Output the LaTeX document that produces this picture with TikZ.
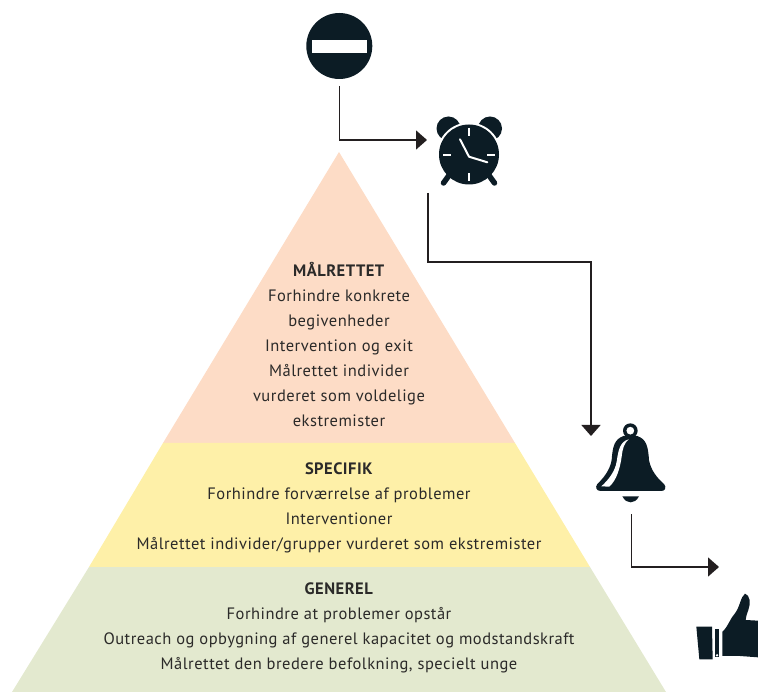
\documentclass[tikz,border=0pt]{standalone}
\usepackage{fontspec}
\setmainfont[LetterSpace=3]{PT Sans}
\usetikzlibrary{arrows.meta}
\definecolor{icondark}{HTML}{0C1C25}
\definecolor{flowdark}{HTML}{231F20}
\definecolor{textdark}{HTML}{2B2A29}
\definecolor{peach}{HTML}{FDDCC6}
\definecolor{butter}{HTML}{FEF0A8}
\definecolor{sage}{HTML}{E3E9CF}
\tikzset{
  flow/.style={draw=flowdark, line width=1.5pt, -{Triangle[length=11pt,width=19pt]}},
  tier/.style={font=\fontsize{16.5}{25}\selectfont, text=textdark, align=center, inner sep=0pt},
  icon/.style={fill=icondark, draw=none},
  tick/.style={draw=white, line width=2pt},
}
\begin{document}
\begin{tikzpicture}[x=1pt,y=-1pt]
  \useasboundingbox (0,0) rectangle (758,692);
  % pyramid
  \fill[peach] (339,152) -- (515,443) -- (163,443) -- cycle;
  \fill[butter] (163,443) -- (515,443) -- (590,567) -- (89,567) -- cycle;
  \fill[sage] (89,567) -- (590,567) -- (666,692) -- (12,692) -- cycle;
  \node[tier] (top) at (339,344) {\textbf{MÅLRETTET}\\Forhindre konkrete\\begivenheder\\Intervention og exit\\Målrettet individer\\vurderet som voldelige\\ekstremister};
  \node[tier] (middle) at (339,508) {\textbf{SPECIFIK}\\Forhindre forværrelse af problemer\\Interventioner\\Målrettet individer/grupper vurderet som ekstremister};
  \node[tier] (bottom) at (339,628) {\textbf{GENEREL}\\Forhindre at problemer opstår\\Outreach og opbygning af generel kapacitet og modstandskraft\\Målrettet den bredere befolkning, specielt unge};
  % stop sign
  \fill[icondark] (339.3,46) circle (33);
  \fill[white] (312.3,40) rectangle (366.7,52.7);
  % clock
  \fill[icondark] (448.5,128.5) circle (12);
  \fill[icondark] (490,128.5) circle (12);
  \fill[white] (469,154.5) circle (32);
  \draw[icondark, line width=5.5pt, line cap=round] (450,174) -- (443.5,183);
  \draw[icondark, line width=5.5pt, line cap=round] (488,174) -- (494.5,183);
  \fill[icondark] (469,154.5) circle (30);
  \draw[tick] (469,127.7) -- (469,135.7);
  \draw[tick] (469,173.3) -- (469,181);
  \draw[tick] (443,154.7) -- (451,154.7);
  \draw[tick] (487,154.7) -- (495,154.7);
  \draw[tick, line cap=round, line join=round] (460,139.3) -- (469,156.7) -- (487.3,162.3);
  % bell
  \begin{scope}[shift={(570,410)},x=1/3*1pt,y=-1/3*1pt]
    \fill[icondark, even odd rule] (181,62) circle (22) (181,62) circle (12);
    \path[icon] (160,78) .. controls (135,88) and (128,105) .. (125,150)
      .. controls (120,180) and (100,205) .. (82,222)
      .. controls (74,232) and (80,243) .. (92,243) -- (274,243)
      .. controls (286,243) and (290,232) .. (282,222)
      .. controls (262,205) and (242,180) .. (237,150)
      .. controls (234,105) and (228,88) .. (202,78) -- cycle;
    \fill[white] (176,88) .. controls (150,95) and (145,120) .. (140,155)
      .. controls (135,185) and (115,210) .. (94,229) -- (118,230)
      .. controls (140,210) and (150,175) .. (155,140)
      .. controls (158,115) and (162,100) .. (176,88) -- cycle;
    \path[icon] (157,259) -- (207,259) .. controls (200,272) and (192,277) .. (182,277)
      .. controls (172,277) and (164,272) .. (157,259) -- cycle;
  % thumb
    \path[icon] (379,650) -- (426,650) -- (428,748) -- (388,748) -- cycle;
    \path[icon] (435,657) -- (448,657) -- (448,742) -- (435,742) -- cycle;
    \fill[white] (441,736) circle (4);
    \path[icon] (457,665) .. controls (475,650) and (480,625) .. (495,610)
      .. controls (510,590) and (512,560) .. (525,551)
      .. controls (540,555) and (543,580) .. (535,600)
      .. controls (530,615) and (527,622) .. (527,630) -- (564,632) -- (564,742)
      -- (510,738) -- (457,738) -- cycle;
  \end{scope}
  % connector ends
  \coordinate (stopout) at (339.5,86);
  \coordinate (clockin) at (427,140);
  \coordinate (clockout) at (428,193);
  \coordinate (clockturn) at (591,262);
  \coordinate (bellin) at (591,436);
  \coordinate (bellout) at (631.5,514);
  \coordinate (thumbin) at (719,567);
  \draw[flow] (stopout) |- (clockin);
  \draw[flow] (clockout) |- (clockturn) -- (bellin);
  \draw[flow] (bellout) |- (thumbin);
\end{tikzpicture}
\end{document}
